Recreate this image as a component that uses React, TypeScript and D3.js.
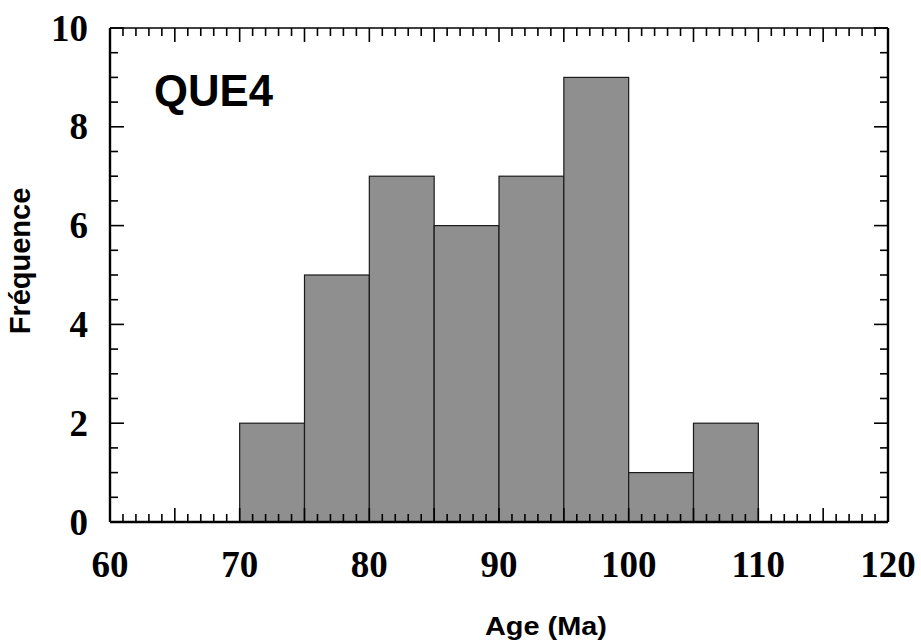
import React from "react";
import * as d3 from "d3";

const binStarts = [70, 75, 80, 85, 90, 95, 100, 105];
const binWidth = 5;
const frequencies = [2, 5, 7, 6, 7, 9, 1, 2];
const xTickLabels = [60, 70, 80, 90, 100, 110, 120];
const yTickLabels = [0, 2, 4, 6, 8, 10];
const sampleName = "QUE4";
const xTitle = "Age (Ma)";
const yTitle = "Fréquence";

const W = 921;
const H = 643;
const left = 110;
const right = 888;
const top = 28;
const bottom = 522;

export default function App() {
  const x = d3.scaleLinear().domain([60, 120]).range([left, right]);
  const y = d3.scaleLinear().domain([0, 10]).range([bottom, top]);

  const xMinor = d3.range(60, 121, 1);
  const yMinor = d3.range(0, 10.01, 0.5);
  const minorLen = 8;
  const majorLen = 14;
  const isXMajor = (v: number) => v % 5 === 0;
  const isYMajor = (v: number) => Math.abs(v % 2) < 1e-9;

  const serif = "'Liberation Serif', 'Times New Roman', serif";
  const sans = "'Liberation Sans', Arial, sans-serif";

  return (
    <svg width={W} height={H} style={{ position: "absolute", left: 0, top: 0 }}>
      <rect x={0} y={0} width={W} height={H} fill="#fff" />
      {binStarts.map((s, i) => (
        <rect
          key={s}
          x={x(s)}
          y={y(frequencies[i])}
          width={x(s + binWidth) - x(s)}
          height={y(0) - y(frequencies[i])}
          fill="#8f8f8f"
          stroke="#1a1a1a"
          strokeWidth={1.2}
        />
      ))}
      {xMinor.map((v) => {
        const len = isXMajor(v) ? majorLen : minorLen;
        return (
          <g key={"xt" + v} stroke="#000" strokeWidth={1.6}>
            <line x1={x(v)} x2={x(v)} y1={bottom} y2={bottom - len} />
            <line x1={x(v)} x2={x(v)} y1={top} y2={top + len} />
          </g>
        );
      })}
      {yMinor.map((v) => {
        const len = isYMajor(v) ? majorLen : minorLen;
        return (
          <g key={"yt" + v} stroke="#000" strokeWidth={1.6}>
            <line x1={left} x2={left + len} y1={y(v)} y2={y(v)} />
            <line x1={right} x2={right - len} y1={y(v)} y2={y(v)} />
          </g>
        );
      })}
      <line x1={left} x2={right} y1={bottom} y2={bottom} stroke="#000" strokeWidth={2.4} />
      <line x1={left} x2={right} y1={top} y2={top} stroke="#000" strokeWidth={1.6} />
      <line x1={left} x2={left} y1={top} y2={bottom} stroke="#000" strokeWidth={2.4} />
      <line x1={right} x2={right} y1={top} y2={bottom} stroke="#000" strokeWidth={2.4} />
      {xTickLabels.map((v) => (
        <text
          key={"xl" + v}
          x={x(v)}
          y={577}
          textAnchor="middle"
          fontFamily={serif}
          fontWeight="bold"
          fontSize={37}
        >
          {v}
        </text>
      ))}
      {yTickLabels.map((v) => (
        <text
          key={"yl" + v}
          x={88}
          y={y(v) + 12.5}
          textAnchor="end"
          fontFamily={serif}
          fontWeight="bold"
          fontSize={37}
        >
          {v}
        </text>
      ))}
      <text
        x={154}
        y={106}
        fontFamily={sans}
        fontWeight="bold"
        fontSize={45}
        textLength={119}
        lengthAdjust="spacingAndGlyphs"
      >
        {sampleName}
      </text>
      <text
        x={485}
        y={635}
        fontFamily={sans}
        fontWeight="bold"
        fontSize={25}
        textLength={122}
        lengthAdjust="spacingAndGlyphs"
      >
        {xTitle}
      </text>
      <text
        transform="translate(30,261) rotate(-90)"
        textAnchor="middle"
        fontFamily={sans}
        fontWeight="bold"
        fontSize={29}
      >
        {yTitle}
      </text>
    </svg>
  );
}
